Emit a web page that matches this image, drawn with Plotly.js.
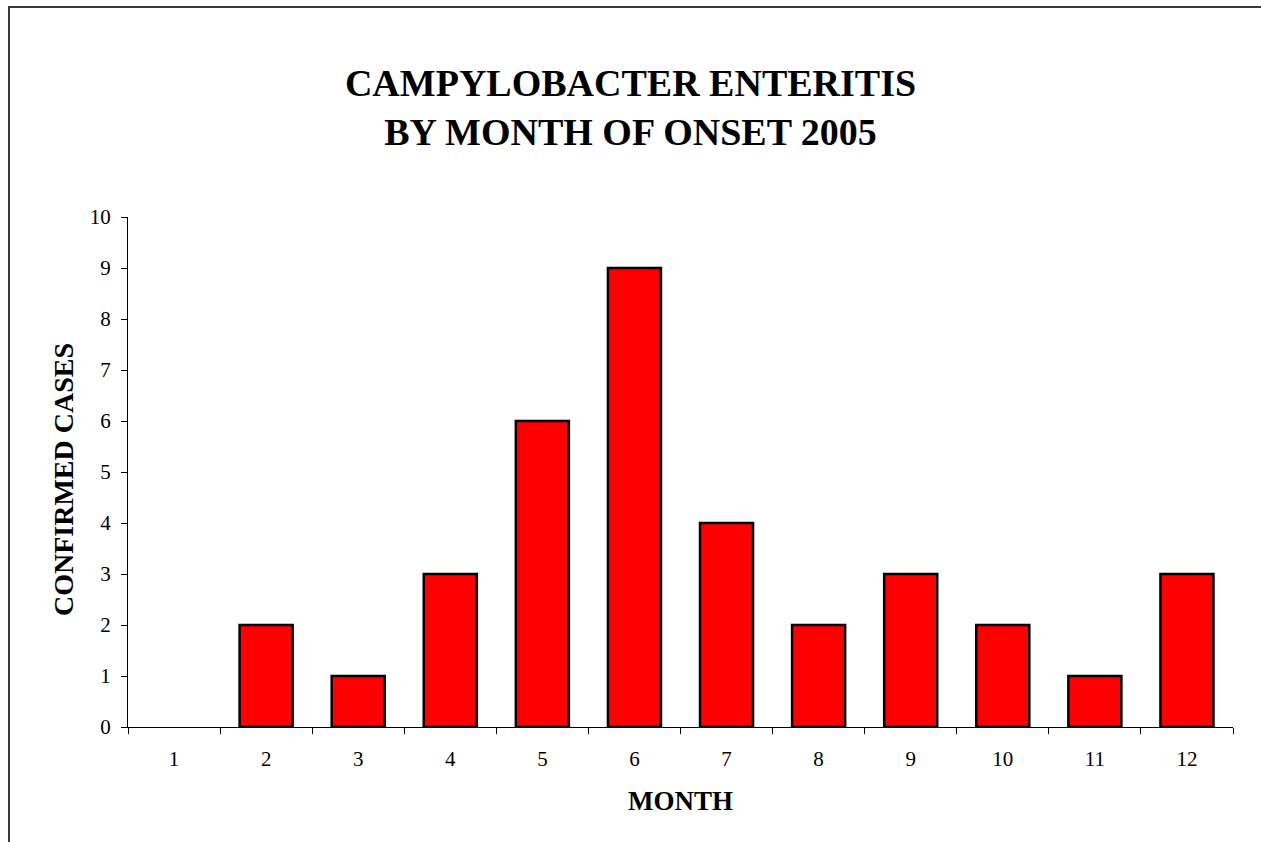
<!DOCTYPE html>
<html>
<head>
<meta charset="utf-8">
<script src="https://cdn.plot.ly/plotly-3.0.1.min.js"></script>
<style>
html,body{margin:0;padding:0;overflow:hidden;background:#fff;}
#chart{width:1261px;height:842px;position:absolute;left:0;top:0;}
#frame{position:absolute;left:8px;top:6px;width:2000px;height:2000px;border-left:2px solid #3a3a3a;border-top:2px solid #3a3a3a;pointer-events:none;}
</style>
</head>
<body>
<div id="chart"></div>
<div id="frame"></div>
<script>
const months = ['1','2','3','4','5','6','7','8','9','10','11','12'];
const cases = [0, 2, 1, 3, 6, 9, 4, 2, 3, 2, 1, 3];
const chartTitle = 'CAMPYLOBACTER ENTERITIS<br>BY MONTH OF ONSET 2005';
const xTitle = 'MONTH';
const yTitle = 'CONFIRMED CASES';
const serif = 'Liberation Serif, Times New Roman, serif';

const trace = {
  type: 'bar',
  x: months,
  y: cases,
  marker: {
    color: '#ff0000',
    line: {color: '#000000', width: cases.map(v => v > 0 ? 2.5 : 0)}
  },
  hoverinfo: 'x+y'
};

const layout = {
  width: 1261, height: 842,
  margin: {l: 128, r: 28, t: 217, b: 115, pad: 0},
  paper_bgcolor: '#ffffff',
  plot_bgcolor: '#ffffff',
  showlegend: false,
  bargap: 0.424,
  title: {
    text: chartTitle,
    font: {family: serif, size: 38, color: '#000', weight: 'bold'},
    x: 0.5, xanchor: 'center', xref: 'container',
    y: 1 - 96 / 842, yanchor: 'middle', yref: 'container'
  },
  xaxis: {
    type: 'category',
    categoryorder: 'array', categoryarray: months,
    tickson: 'boundaries',
    ticks: 'outside', ticklen: 6, tickcolor: '#000', tickwidth: 1,
    ticklabelstandoff: 13,
    showline: true, linecolor: '#000', linewidth: 1,
    showgrid: false, zeroline: false,
    tickfont: {family: serif, size: 21, color: '#000'},
    fixedrange: true
  },
  yaxis: {
    range: [0, 10], dtick: 1, tick0: 0,
    ticks: 'outside', ticklen: 6, tickcolor: '#000', tickwidth: 1,
    ticklabelstandoff: 6,
    showline: true, linecolor: '#000', linewidth: 1,
    showgrid: false, zeroline: false,
    tickfont: {family: serif, size: 21, color: '#000'},
    fixedrange: true
  },
  annotations: [
    {
      text: xTitle, showarrow: false,
      xref: 'paper', yref: 'paper',
      x: 0.5, xanchor: 'center',
      y: (727 - 801) / 510, yanchor: 'middle',
      font: {family: serif, size: 27, color: '#000', weight: 'bold'}
    },
    {
      text: yTitle, showarrow: false, textangle: -90,
      xref: 'paper', yref: 'paper',
      x: (63 - 128) / 1105, xanchor: 'center',
      y: (727 - 480) / 510, yanchor: 'middle',
      font: {family: serif, size: 28, color: '#000', weight: 'bold'}
    }
  ]
};

Plotly.newPlot('chart', [trace], layout, {displayModeBar: false, staticPlot: true});
</script>
</body>
</html>
